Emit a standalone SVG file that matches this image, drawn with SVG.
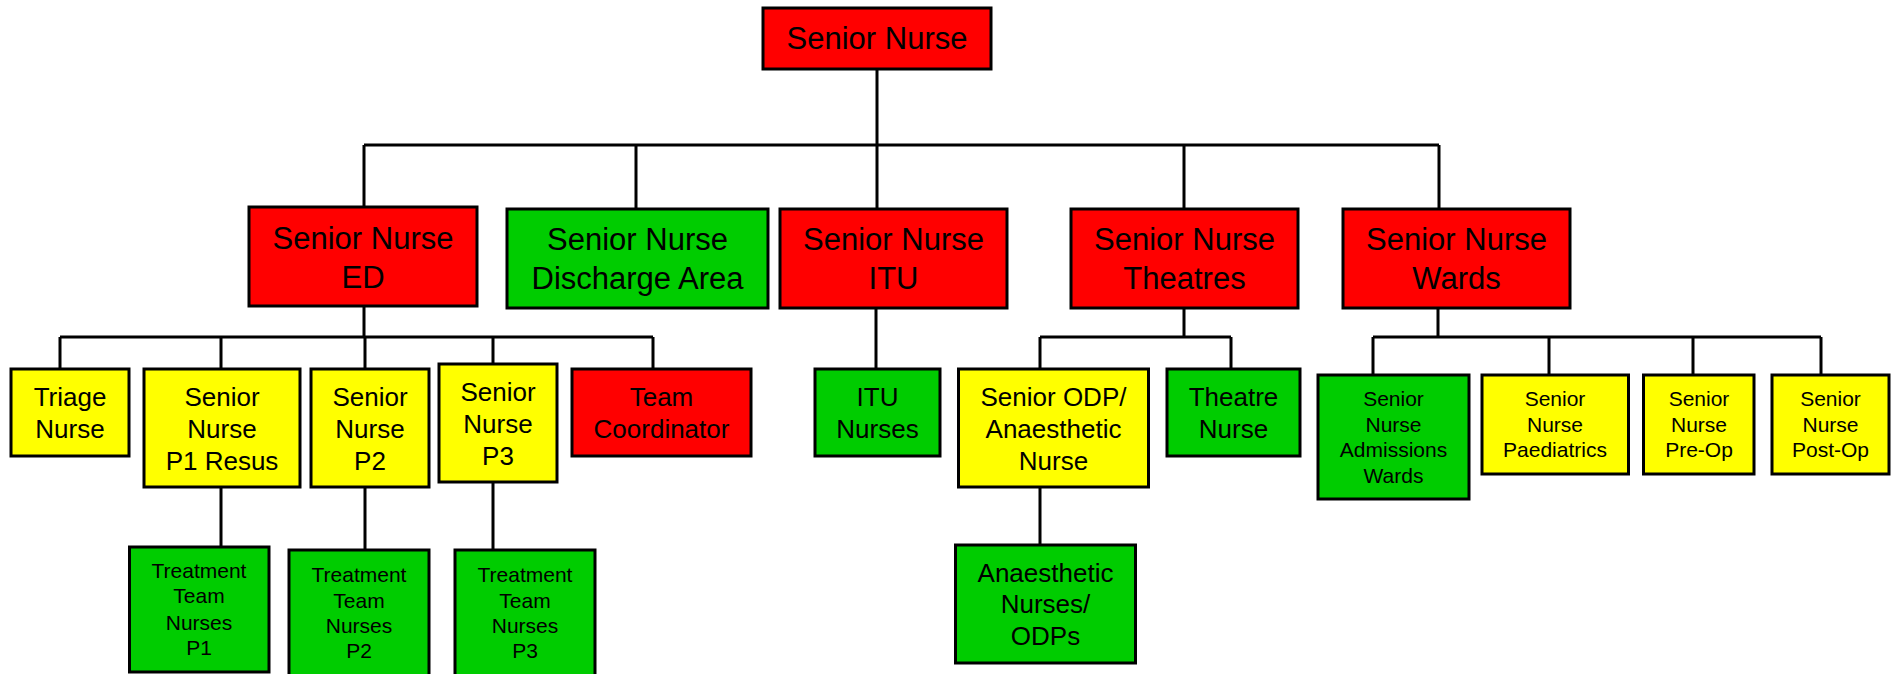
<svg xmlns="http://www.w3.org/2000/svg" width="1892" height="674" viewBox="0 0 1892 674">
<style>
.box{stroke:#000;stroke-width:3}
.r{fill:#FF0000}.g{fill:#00CC00}.y{fill:#FFFF00}
.t{font-family:"Liberation Sans",Arial,sans-serif;fill:#000;text-anchor:middle}
.f31{font-size:31px}.f26{font-size:26px}.f21{font-size:21px}
.c{stroke:#000;stroke-width:3;fill:none}
</style>
<rect width="1892" height="674" fill="#fff"/>
<g id="connectors">
<path class="c" d="M877 69V145M364 145H1439M364 145V207M636 145V209M877 145V209M1184 145V209M1439 145V209"/>
<path class="c" d="M364 306V337M60 337H653M60 337V369M221 337V369M365 337V369M493 337V364M653 337V369"/>
<path class="c" d="M221 487V547M365 487V550M493 482V550"/>
<path class="c" d="M876 308V369"/>
<path class="c" d="M1184 308V337M1040 337H1231M1040 337V369M1231 337V369M1040 487V545"/>
<path class="c" d="M1438 308V337M1373 337H1821M1373 337V375M1549 337V375M1693 337V375M1821 337V375"/>
</g>
<g id="n-top"><rect class="box r" x="763" y="8" width="228" height="61"/><text class="t f31" x="877" y="49">Senior Nurse</text></g>
<g id="n-ed"><rect class="box r" x="249" y="207" width="228" height="99"/><text class="t f31" x="363" y="249">Senior Nurse</text><text class="t f31" x="363" y="288">ED</text></g>
<g id="n-discharge"><rect class="box g" x="507" y="209" width="261" height="99"/><text class="t f31" x="637.5" y="250">Senior Nurse</text><text class="t f31" x="637.5" y="289">Discharge Area</text></g>
<g id="n-itu"><rect class="box r" x="780" y="209" width="227" height="99"/><text class="t f31" x="893.5" y="250">Senior Nurse</text><text class="t f31" x="893.5" y="289">ITU</text></g>
<g id="n-theatres"><rect class="box r" x="1071" y="209" width="227" height="99"/><text class="t f31" x="1184.5" y="250">Senior Nurse</text><text class="t f31" x="1184.5" y="289">Theatres</text></g>
<g id="n-wards"><rect class="box r" x="1343" y="209" width="227" height="99"/><text class="t f31" x="1456.5" y="250">Senior Nurse</text><text class="t f31" x="1456.5" y="289">Wards</text></g>
<g id="n-triage"><rect class="box y" x="11" y="369" width="118" height="87"/><text class="t f26" x="70" y="406">Triage</text><text class="t f26" x="70" y="438">Nurse</text></g>
<g id="n-p1"><rect class="box y" x="144" y="369" width="156" height="118"/><text class="t f26" x="222" y="406">Senior</text><text class="t f26" x="222" y="438">Nurse</text><text class="t f26" x="222" y="469.5">P1 Resus</text></g>
<g id="n-p2"><rect class="box y" x="311" y="369" width="118" height="118"/><text class="t f26" x="370" y="406">Senior</text><text class="t f26" x="370" y="438">Nurse</text><text class="t f26" x="370" y="469.5">P2</text></g>
<g id="n-p3"><rect class="box y" x="439" y="364" width="118" height="118"/><text class="t f26" x="498" y="401">Senior</text><text class="t f26" x="498" y="433">Nurse</text><text class="t f26" x="498" y="464.5">P3</text></g>
<g id="n-coord"><rect class="box r" x="572" y="369" width="179" height="87"/><text class="t f26" x="661.5" y="406">Team</text><text class="t f26" x="661.5" y="438">Coordinator</text></g>
<g id="n-itunurses"><rect class="box g" x="815" y="369" width="125" height="87"/><text class="t f26" x="877.5" y="406">ITU</text><text class="t f26" x="877.5" y="438">Nurses</text></g>
<g id="n-odp"><rect class="box y" x="958.5" y="369" width="190" height="118"/><text class="t f26" x="1053.5" y="406">Senior ODP/</text><text class="t f26" x="1053.5" y="438">Anaesthetic</text><text class="t f26" x="1053.5" y="469.5">Nurse</text></g>
<g id="n-theatrenurse"><rect class="box g" x="1167" y="369" width="133" height="87"/><text class="t f26" x="1233.5" y="406">Theatre</text><text class="t f26" x="1233.5" y="438">Nurse</text></g>
<g id="n-admissions"><rect class="box g" x="1318" y="375" width="151" height="124"/><text class="t f21" x="1393.5" y="406">Senior</text><text class="t f21" x="1393.5" y="431.6">Nurse</text><text class="t f21" x="1393.5" y="457">Admissions</text><text class="t f21" x="1393.5" y="482.6">Wards</text></g>
<g id="n-paed"><rect class="box y" x="1482" y="375" width="146.5" height="99"/><text class="t f21" x="1555" y="406">Senior</text><text class="t f21" x="1555" y="431.6">Nurse</text><text class="t f21" x="1555" y="457">Paediatrics</text></g>
<g id="n-preop"><rect class="box y" x="1643.5" y="375" width="110.5" height="99"/><text class="t f21" x="1699" y="406">Senior</text><text class="t f21" x="1699" y="431.6">Nurse</text><text class="t f21" x="1699" y="457">Pre-Op</text></g>
<g id="n-postop"><rect class="box y" x="1772" y="375" width="117" height="99"/><text class="t f21" x="1830.5" y="406">Senior</text><text class="t f21" x="1830.5" y="431.6">Nurse</text><text class="t f21" x="1830.5" y="457">Post-Op</text></g>
<g id="n-tt1"><rect class="box g" x="129.5" y="547" width="139.5" height="125"/><text class="t f21" x="199" y="577.6">Treatment</text><text class="t f21" x="199" y="603.3">Team</text><text class="t f21" x="199" y="629.6">Nurses</text><text class="t f21" x="199" y="655">P1</text></g>
<g id="n-tt2"><rect class="box g" x="289" y="550" width="140" height="126"/><text class="t f21" x="359" y="581.6">Treatment</text><text class="t f21" x="359" y="607.6">Team</text><text class="t f21" x="359" y="633.3">Nurses</text><text class="t f21" x="359" y="658.3">P2</text></g>
<g id="n-tt3"><rect class="box g" x="455" y="550" width="140" height="126"/><text class="t f21" x="525" y="581.6">Treatment</text><text class="t f21" x="525" y="607.6">Team</text><text class="t f21" x="525" y="633.3">Nurses</text><text class="t f21" x="525" y="658.3">P3</text></g>
<g id="n-anaes"><rect class="box g" x="955.5" y="545" width="180" height="118"/><text class="t f26" x="1045.5" y="581.6">Anaesthetic</text><text class="t f26" x="1045.5" y="613.3">Nurses/</text><text class="t f26" x="1045.5" y="645">ODPs</text></g>
</svg>
